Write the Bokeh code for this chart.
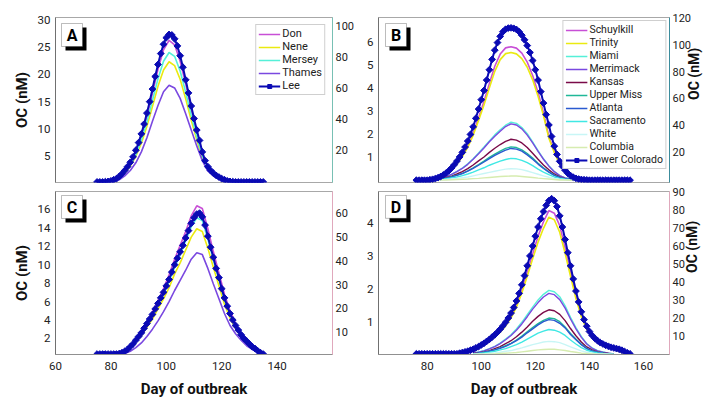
import math
from bokeh.plotting import figure
from bokeh.layouts import gridplot
from bokeh.models import (Range1d, LinearAxis, FixedTicker, Legend, LegendItem,
                          BoxAnnotation, Label)
from bokeh.embed import file_html
from bokeh.resources import INLINE

FONT = "Roboto"

# ---------------- Panel A (days 75-135) ----------------
a_days = list(range(75, 136))
a_lee = [0.3, 0.3, 0.3, 0.35, 0.4, 0.5, 0.7, 0.9, 1.3, 1.8,
         2.4, 3.1, 3.9, 4.9, 6.1, 7.5, 9.1, 10.9, 12.9, 15.0,
         17.3, 19.6, 21.8, 23.8, 25.5, 26.7, 27.3, 27.2, 26.5, 25.2,
         23.4, 21.3, 19.0, 16.6, 14.2, 11.9, 9.8, 7.9, 5.8, 4.2,
         3.1, 2.4, 1.9, 1.5, 1.2, 0.9, 0.7, 0.5, 0.4, 0.35,
         0.3, 0.3, 0.3, 0.3, 0.3, 0.3, 0.3, 0.3, 0.3, 0.3, 0.3]
a_line_days = list(range(77, 128, 2))
a_don = [0.3, 0.3, 0.6, 1.2, 2.2, 3.6, 5.6, 8.5, 12.2, 16.5, 20.9, 24.5, 26.2,
         25.4, 22.4, 18.2, 13.6, 9.4, 5.5, 3.0, 1.8, 1.1, 0.6, 0.4, 0.3, 0.3]
a_nene = [0.3, 0.3, 0.5, 1.0, 1.9, 3.2, 5.0, 7.4, 10.5, 14.1, 17.8, 20.8, 22.3,
          21.6, 19.1, 15.5, 11.6, 8.0, 4.7, 2.5, 1.6, 1.0, 0.6, 0.4, 0.3, 0.3]
a_mersey = [0.3, 0.3, 0.5, 1.1, 2.1, 3.4, 5.3, 8.0, 11.3, 15.2, 19.2, 22.4, 24.0,
            23.3, 20.6, 16.7, 12.5, 8.6, 5.1, 2.7, 1.7, 1.0, 0.6, 0.4, 0.3, 0.3]
a_thames = [0.3, 0.3, 0.4, 0.7, 1.4, 2.4, 3.8, 5.8, 8.4, 11.4, 14.3, 16.8, 18.0,
            17.5, 15.6, 12.8, 9.8, 6.9, 4.2, 2.3, 1.4, 0.8, 0.5, 0.4, 0.3, 0.3]

# ---------------- Panel C (days 75-135) ----------------
c_days = list(range(75, 136))
c_lee = [0.3, 0.3, 0.3, 0.3, 0.3, 0.3, 0.3, 0.3, 0.35, 0.45,
         0.6, 0.8, 1.1, 1.4, 1.8, 2.2, 2.6, 3.1, 3.6, 4.1,
         4.6, 5.2, 5.8, 6.4, 7.0, 7.7, 8.4, 9.2, 10.0, 10.7,
         11.4, 12.1, 12.9, 13.7, 14.5, 15.1, 15.5, 15.6, 15.2, 14.3,
         13.1, 11.9, 10.8, 9.6, 8.6, 7.4, 6.4, 5.5, 4.7, 4.0,
         3.4, 2.9, 2.4, 2.0, 1.7, 1.4, 1.1, 0.9, 0.65, 0.45, 0.3]
c_line_days = list(range(81, 136, 2))
c_don = [0.3, 0.4, 0.63, 1.2, 1.9, 2.8, 3.8, 4.9, 6.1, 7.4, 8.9, 10.6, 12.1, 13.6,
         15.3, 16.4, 16.1, 13.9, 11.4, 9.1, 6.8, 5.0, 3.6, 2.5, 1.8, 1.2, 0.7, 0.3]
c_nene = [0.3, 0.35, 0.53, 1.0, 1.6, 2.3, 3.2, 4.1, 5.2, 6.3, 7.5, 9.0, 10.2, 11.6,
          13.0, 13.9, 13.6, 11.8, 9.7, 7.7, 5.7, 4.2, 3.1, 2.2, 1.5, 1.0, 0.6, 0.3]
c_mersey = [0.3, 0.35, 0.58, 1.1, 1.7, 2.5, 3.5, 4.5, 5.7, 6.8, 8.2, 9.7, 11.1, 12.6,
            14.1, 15.1, 14.8, 12.8, 10.5, 8.4, 6.2, 4.6, 3.3, 2.3, 1.7, 1.1, 0.6, 0.3]
c_thames = [0.3, 0.3, 0.35, 0.6, 1.0, 1.5, 2.2, 3.0, 3.9, 4.9, 6.0, 7.2, 8.3, 9.4,
            10.6, 11.3, 11.1, 9.6, 7.9, 6.3, 4.7, 3.4, 2.5, 1.8, 1.2, 0.8, 0.5, 0.3]

# ---------------- Panel B (days 76-155) ----------------
b_days = list(range(76, 156))
b_lc = [0.0, 0.0, 0.0, 0.0, 0.0, 0.02, 0.04, 0.07, 0.11, 0.16,
        0.23, 0.31, 0.41, 0.53, 0.67, 0.83, 1.01, 1.21, 1.44, 1.7,
        1.99, 2.32, 2.69, 3.09, 3.5, 3.9, 4.35, 4.8, 5.25, 5.65,
        5.98, 6.25, 6.45, 6.56, 6.61, 6.62, 6.6, 6.55, 6.45, 6.3,
        6.1, 5.85, 5.55, 5.2, 4.8, 4.35, 3.85, 3.35, 2.85, 2.4,
        1.9, 1.48, 1.12, 0.82, 0.6, 0.43, 0.3, 0.2, 0.13, 0.08,
        0.05, 0.03, 0.02, 0.01, 0.0, 0.0, 0.0, 0.0, 0.0, 0.0,
        0.0, 0.0, 0.0, 0.0, 0.0, 0.0, 0.0, 0.0, 0.0, 0.0]
b_big_days = list(range(81, 140, 2))
b_schuylkill = [0.03, 0.07, 0.15, 0.28, 0.48, 0.74, 1.07, 1.5, 2.04, 2.71, 3.42, 4.2, 4.95,
                5.48, 5.75, 5.8, 5.74, 5.52, 5.13, 4.55, 3.81, 2.93, 1.9, 1.25, 0.72,
                0.38, 0.18, 0.08, 0.03, 0.01]
b_trinity = [0.03, 0.07, 0.14, 0.27, 0.46, 0.7, 1.02, 1.43, 1.95, 2.6, 3.27, 4.02, 4.73,
             5.24, 5.5, 5.55, 5.49, 5.28, 4.91, 4.36, 3.65, 2.81, 1.82, 1.2, 0.69,
             0.36, 0.17, 0.07, 0.03, 0.01]
b_small_days = list(range(83, 136, 2))
b_miami = [0.02, 0.08, 0.15, 0.25, 0.38, 0.53, 0.71, 0.93, 1.18, 1.44, 1.71, 1.97, 2.19, 2.39,
           2.52, 2.47, 2.29, 2.02, 1.66, 1.29, 0.93, 0.63, 0.38, 0.2, 0.1, 0.05, 0.0]
b_merrimack = [0.02, 0.07, 0.15, 0.25, 0.37, 0.51, 0.69, 0.91, 1.15, 1.4, 1.67, 1.91, 2.13, 2.33,
               2.45, 2.4, 2.23, 1.96, 1.62, 1.25, 0.91, 0.61, 0.37, 0.2, 0.1, 0.05, 0.0]
b_kansas = [0.02, 0.05, 0.11, 0.18, 0.27, 0.37, 0.5, 0.66, 0.84, 1.01, 1.21, 1.39, 1.55, 1.69,
            1.78, 1.74, 1.62, 1.42, 1.17, 0.91, 0.66, 0.45, 0.27, 0.14, 0.07, 0.04, 0.0]
b_uppermiss = [0.01, 0.04, 0.09, 0.15, 0.22, 0.3, 0.41, 0.54, 0.68, 0.83, 0.99, 1.13, 1.26, 1.38,
               1.45, 1.42, 1.32, 1.16, 0.96, 0.74, 0.54, 0.36, 0.22, 0.12, 0.06, 0.03, 0.0]
b_atlanta = [0.01, 0.04, 0.08, 0.14, 0.21, 0.29, 0.39, 0.51, 0.65, 0.79, 0.94, 1.08, 1.2, 1.31,
             1.38, 1.35, 1.26, 1.1, 0.91, 0.7, 0.51, 0.35, 0.21, 0.11, 0.06, 0.03, 0.0]
b_sacramento = [0.01, 0.03, 0.06, 0.1, 0.14, 0.2, 0.27, 0.35, 0.45, 0.54, 0.65, 0.74, 0.83, 0.9,
                0.95, 0.93, 0.86, 0.76, 0.63, 0.48, 0.35, 0.24, 0.14, 0.08, 0.04, 0.02, 0.0]
b_white = [0.0, 0.02, 0.03, 0.05, 0.08, 0.11, 0.14, 0.19, 0.24, 0.29, 0.34, 0.39, 0.44, 0.48,
           0.5, 0.49, 0.46, 0.4, 0.33, 0.26, 0.19, 0.13, 0.08, 0.04, 0.02, 0.01, 0.0]
b_columbia = [0.0, 0.01, 0.01, 0.02, 0.03, 0.04, 0.05, 0.07, 0.08, 0.1, 0.12, 0.14, 0.16, 0.17,
              0.18, 0.18, 0.16, 0.14, 0.12, 0.09, 0.07, 0.05, 0.03, 0.01, 0.01, 0.0, 0.0]

# ---------------- Panel D (days 76-155) ----------------
d_days = list(range(76, 156))
d_lc = [0.02, 0.02, 0.02, 0.02, 0.02, 0.02, 0.02, 0.02, 0.02, 0.02,
        0.02, 0.02, 0.02, 0.02, 0.02, 0.02, 0.04, 0.06, 0.08, 0.1,
        0.13, 0.16, 0.2, 0.24, 0.29, 0.34, 0.4, 0.46, 0.53, 0.6,
        0.68, 0.77, 0.87, 0.98, 1.11, 1.26, 1.43, 1.63, 1.86, 2.12,
        2.4, 2.7, 3.0, 3.3, 3.6, 3.88, 4.13, 4.35, 4.54, 4.68,
        4.74, 4.68, 4.5, 4.22, 3.88, 3.5, 3.1, 2.7, 2.3, 1.93,
        1.6, 1.3, 1.06, 0.86, 0.7, 0.58, 0.49, 0.42, 0.36, 0.32,
        0.28, 0.25, 0.22, 0.2, 0.18, 0.16, 0.13, 0.09, 0.05, 0.02]
d_big_days = list(range(95, 154, 2))
d_schuylkill = [0.09, 0.15, 0.22, 0.32, 0.43, 0.56, 0.71, 0.91, 1.17, 1.51, 1.97, 2.51, 3.06,
                3.6, 4.04, 4.38, 4.3, 3.92, 3.25, 2.51, 1.79, 1.21, 0.8, 0.54, 0.39, 0.3,
                0.23, 0.18, 0.1, 0.03]
d_trinity = [0.09, 0.14, 0.21, 0.3, 0.41, 0.53, 0.68, 0.87, 1.11, 1.44, 1.87, 2.38, 2.91,
             3.42, 3.84, 4.18, 4.1, 3.72, 3.08, 2.38, 1.7, 1.15, 0.76, 0.51, 0.37, 0.28,
             0.22, 0.17, 0.1, 0.03]
d_small_days = list(range(97, 150, 2))
d_miami = [0.04, 0.08, 0.12, 0.18, 0.25, 0.35, 0.47, 0.6, 0.78, 0.98, 1.21, 1.44, 1.66, 1.83,
           1.95, 1.91, 1.76, 1.48, 1.13, 0.82, 0.55, 0.33, 0.2, 0.12, 0.08, 0.04, 0.02]
d_merrimack = [0.04, 0.07, 0.11, 0.17, 0.24, 0.33, 0.45, 0.58, 0.74, 0.93, 1.15, 1.38, 1.58, 1.75,
               1.86, 1.82, 1.67, 1.41, 1.08, 0.78, 0.52, 0.32, 0.19, 0.11, 0.07, 0.04, 0.02]
d_kansas = [0.03, 0.05, 0.08, 0.12, 0.18, 0.24, 0.33, 0.42, 0.54, 0.68, 0.84, 1.01, 1.16, 1.28,
            1.36, 1.33, 1.22, 1.03, 0.79, 0.57, 0.38, 0.23, 0.14, 0.08, 0.05, 0.03, 0.01]
d_uppermiss = [0.02, 0.04, 0.07, 0.1, 0.14, 0.2, 0.27, 0.34, 0.44, 0.56, 0.69, 0.82, 0.94, 1.04,
               1.11, 1.09, 1.0, 0.84, 0.64, 0.47, 0.31, 0.19, 0.11, 0.07, 0.04, 0.02, 0.01]
d_atlanta = [0.02, 0.04, 0.06, 0.1, 0.14, 0.19, 0.25, 0.33, 0.42, 0.53, 0.66, 0.78, 0.9, 1.0,
             1.06, 1.04, 0.95, 0.81, 0.61, 0.45, 0.3, 0.18, 0.11, 0.06, 0.04, 0.02, 0.01]
d_sacramento = [0.02, 0.03, 0.05, 0.07, 0.1, 0.14, 0.18, 0.24, 0.3, 0.38, 0.47, 0.56, 0.65, 0.71,
                0.76, 0.74, 0.68, 0.58, 0.44, 0.32, 0.21, 0.13, 0.08, 0.05, 0.03, 0.02, 0.01]
d_white = [0.01, 0.02, 0.02, 0.04, 0.05, 0.07, 0.1, 0.12, 0.16, 0.2, 0.25, 0.3, 0.34, 0.38,
           0.4, 0.39, 0.36, 0.3, 0.23, 0.17, 0.11, 0.07, 0.04, 0.02, 0.02, 0.01, 0.0]
d_columbia = [0.0, 0.01, 0.01, 0.01, 0.02, 0.03, 0.04, 0.05, 0.06, 0.08, 0.1, 0.12, 0.14, 0.15,
              0.16, 0.16, 0.14, 0.12, 0.09, 0.07, 0.04, 0.03, 0.02, 0.01, 0.01, 0.0, 0.0]

uk_names = ["Don", "Nene", "Mersey", "Thames", "Lee"]
us_names = ["Schuylkill", "Trinity", "Miami", "Merrimack", "Kansas", "Upper Miss",
            "Atlanta", "Sacramento", "White", "Columbia", "Lower Colorado"]

C_DON = "#c84fd6"
C_NENE = "#eaea10"
C_MERSEY = "#55f0d8"
C_THAMES = "#7a48e0"
C_BLUE = "#0a0ab4"
C_KANSAS = "#7a0a48"
C_UPPER = "#20b898"
C_ATLANTA = "#2a5ad0"
C_SAC = "#40e8e4"
C_WHITE = "#c8f6f6"
C_COLUMBIA = "#d6ecb0"


def make_fig(w, h, bl, br, bt, bb, xr, yr, yr2, xaxis):
    p = figure(width=w, height=h, x_range=Range1d(*xr), y_range=Range1d(*yr),
               output_backend="svg", toolbar_location=None,
               x_axis_location=("below" if xaxis else None),
               min_border_left=bl, min_border_right=br, min_border_top=bt,
               min_border_bottom=bb)
    p.extra_y_ranges = {"r": Range1d(*yr2)}
    p.grid.visible = False
    p.outline_line_color = "#a8a8a8"
    p.outline_line_width = 1
    p.background_fill_color = "white"
    p.border_fill_color = "white"
    return p


def style_axis(ax, size="11.5px"):
    ax.major_tick_in = 0
    ax.major_tick_out = 0
    ax.minor_tick_in = 0
    ax.minor_tick_out = 0
    ax.major_label_text_font = FONT
    ax.major_label_text_font_size = size
    ax.major_label_text_color = "#222222"
    ax.axis_line_color = "#909090"
    ax.axis_label_text_font = FONT
    ax.axis_label_text_font_style = "bold"
    ax.axis_label_text_font_size = "15px"
    ax.axis_label_text_color = "#111111"


def tag(p, letter, xr, yr, fw, fh, ox, oy):
    sx = (xr[1] - xr[0]) / fw
    sy = (yr[1] - yr[0]) / fh

    def X(px):
        return xr[0] + px * sx

    def Y(py):
        return yr[1] - py * sy
    p.add_layout(BoxAnnotation(left=X(ox + 4), right=X(ox + 25), top=Y(oy + 4), bottom=Y(oy + 27),
                               fill_color="black", fill_alpha=1, line_color=None))
    p.add_layout(BoxAnnotation(left=X(ox), right=X(ox + 21), top=Y(oy), bottom=Y(oy + 23),
                               fill_color="white", fill_alpha=1, line_color="#222222",
                               line_width=1))
    p.add_layout(Label(x=X(ox + 10.5), y=Y(oy + 12), text=letter, text_align="center",
                       text_baseline="middle", text_font_style="bold",
                       text_font_size="16px", text_font=FONT, text_color="black"))


def add_legend(p, items, margin, glyph_w, fsize):
    leg = Legend(items=items, location="top_right", margin=margin, padding=2, spacing=0,
                 label_height=10, glyph_height=10, glyph_width=glyph_w, label_standoff=2,
                 label_text_font=FONT, label_text_font_size=fsize,
                 label_text_color="#222222", border_line_color="#a0a0a0",
                 background_fill_color="white", background_fill_alpha=1,
                 label_text_line_height=1.0)
    p.add_layout(leg)


def blue_series(p, days, vals):
    ln = p.line(days, vals, line_color=C_BLUE, line_width=2)
    sc = p.scatter(days, vals, marker="square", angle=math.pi / 4, size=4.8,
                   fill_color=C_BLUE, line_color=C_BLUE)
    return [ln, sc]


def right_axis(p, ticks, color, title=None):
    ax = LinearAxis(y_range_name="r", ticker=FixedTicker(ticks=ticks))
    style_axis(ax, "11px")
    ax.axis_line_color = color
    ax.major_label_standoff = 3
    if title:
        ax.axis_label = title
        ax.axis_label_standoff = 0
        ax.axis_label_text_font_size = "14px"
        ax.axis_label_orientation = math.pi / 2
    p.add_layout(ax, "right")
    return ax


# ---------------- build A ----------------
A_X, A_Y, A_Y2 = (60, 160), (0.2, 30.4), (-1.3, 105.2)
pA = make_fig(360, 186, 55, 28, 17, 4, A_X, A_Y, A_Y2, False)
style_axis(pA.yaxis[0])
pA.yaxis[0].ticker = FixedTicker(ticks=[5, 10, 15, 20, 25, 30])
pA.yaxis[0].axis_label = "OC (nM)"
pA.yaxis[0].major_label_standoff = 5
pA.yaxis[0].axis_label_standoff = 4
pA.yaxis[0].axis_line_color = "#707070"
right_axis(pA, [20, 40, 60, 80, 100], "#78c0b4")
lines_A = []
for vals, col in [(a_don, C_DON), (a_nene, C_NENE), (a_mersey, C_MERSEY), (a_thames, C_THAMES)]:
    lines_A.append([pA.line(a_line_days, vals, line_color=col, line_width=1.6)])
lines_A.append(blue_series(pA, a_days, a_lee))
add_legend(pA, [LegendItem(label=n, renderers=r) for n, r in zip(uk_names, lines_A)], 7, 22, "11px")
tag(pA, "A", A_X, A_Y, 277, 165, 6, 6)

# ---------------- build B ----------------
B_X, B_Y, B_Y2 = (62, 169.6), (-0.1, 7.07), (-2.5, 120.2)
pB = make_fig(355, 186, 18, 46, 17, 4, B_X, B_Y, B_Y2, False)
style_axis(pB.yaxis[0])
pB.yaxis[0].ticker = FixedTicker(ticks=[1, 2, 3, 4, 5, 6])
pB.yaxis[0].major_label_standoff = 5
pB.yaxis[0].axis_line_color = "#707070"
right_axis(pB, [20, 40, 60, 80, 100, 120], "#3c8c9c", "OC (nM)")
lines_B = []
lines_B.append([pB.line(b_big_days, b_schuylkill, line_color=C_DON, line_width=1.6)])
lines_B.append([pB.line(b_big_days, b_trinity, line_color=C_NENE, line_width=1.6)])
for vals, col in [(b_miami, C_MERSEY), (b_merrimack, C_THAMES), (b_kansas, C_KANSAS),
                  (b_uppermiss, C_UPPER), (b_atlanta, C_ATLANTA), (b_sacramento, C_SAC),
                  (b_white, C_WHITE), (b_columbia, C_COLUMBIA)]:
    lines_B.append([pB.line(b_small_days, vals, line_color=col, line_width=1.4)])
lines_B.append(blue_series(pB, b_days, b_lc))
add_legend(pB, [LegendItem(label=n, renderers=r) for n, r in zip(us_names, lines_B)], 3, 22, "10.5px")
tag(pB, "B", B_X, B_Y, 291, 165, 7, 6)

# ---------------- build C ----------------
C_X, C_Y, C_Y2 = (60, 160), (0.25, 17.95), (0.6, 69.1)
pC = make_fig(360, 221, 55, 28, 5, 53, C_X, C_Y, C_Y2, True)
style_axis(pC.yaxis[0])
pC.yaxis[0].ticker = FixedTicker(ticks=[2, 4, 6, 8, 10, 12, 14, 16])
pC.yaxis[0].axis_label = "OC (nM)"
pC.yaxis[0].major_label_standoff = 5
pC.yaxis[0].axis_label_standoff = 4
pC.yaxis[0].axis_line_color = "#707070"
style_axis(pC.xaxis[0])
pC.xaxis[0].ticker = FixedTicker(ticks=[60, 80, 100, 120, 140])
pC.xaxis[0].axis_label = "Day of outbreak"
pC.xaxis[0].major_label_standoff = 7
pC.xaxis[0].axis_label_standoff = 7
right_axis(pC, [10, 20, 30, 40, 50, 60], "#e0a8bc")
for vals, col in [(c_don, C_DON), (c_nene, C_NENE), (c_mersey, C_MERSEY), (c_thames, C_THAMES)]:
    pC.line(c_line_days, vals, line_color=col, line_width=1.6)
blue_series(pC, c_days, c_lee)
tag(pC, "C", C_X, C_Y, 277, 163, 6, 4)

# ---------------- build D ----------------
D_X, D_Y, D_Y2 = (62, 169.6), (0.0, 4.96), (-0.5, 90.1)
pD = make_fig(355, 221, 18, 46, 4, 53, D_X, D_Y, D_Y2, True)
style_axis(pD.yaxis[0])
pD.yaxis[0].ticker = FixedTicker(ticks=[1, 2, 3, 4])
pD.yaxis[0].major_label_standoff = 5
pD.yaxis[0].axis_line_color = "#707070"
style_axis(pD.xaxis[0])
pD.xaxis[0].ticker = FixedTicker(ticks=[80, 100, 120, 140, 160])
pD.xaxis[0].axis_label = "Day of outbreak"
pD.xaxis[0].major_label_standoff = 7
pD.xaxis[0].axis_label_standoff = 7
rD = right_axis(pD, [10, 20, 30, 40, 50, 60, 70, 80, 90], "#e0a8bc", "OC (nM)")
rD.axis_label_standoff = 4
pD.line(d_big_days, d_schuylkill, line_color=C_DON, line_width=1.6)
pD.line(d_big_days, d_trinity, line_color=C_NENE, line_width=1.6)
for vals, col in [(d_miami, C_MERSEY), (d_merrimack, C_THAMES), (d_kansas, C_KANSAS),
                  (d_uppermiss, C_UPPER), (d_atlanta, C_ATLANTA), (d_sacramento, C_SAC),
                  (d_white, C_WHITE), (d_columbia, C_COLUMBIA)]:
    pD.line(d_small_days, vals, line_color=col, line_width=1.4)
blue_series(pD, d_days, d_lc)
tag(pD, "D", D_X, D_Y, 291, 164, 7, 4)

grid = gridplot([[pA, pB], [pC, pD]], toolbar_location=None)
open("out.html", "w").write(file_html(grid, INLINE))
